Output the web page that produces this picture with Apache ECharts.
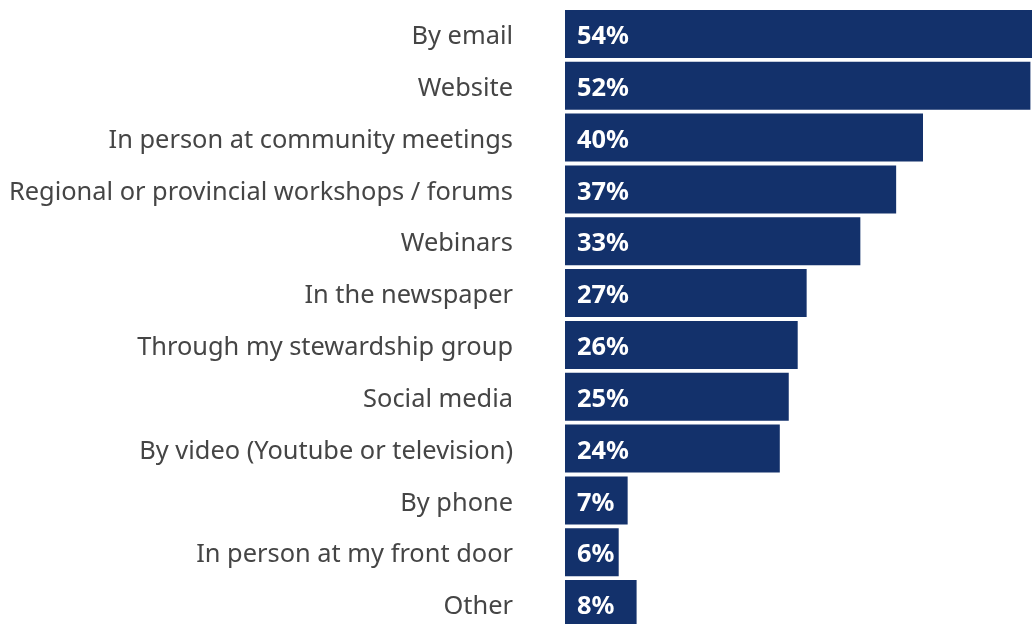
<!DOCTYPE html>
<html>
<head>
<meta charset="utf-8">
<script src="https://cdn.jsdelivr.net/npm/echarts@6/dist/echarts.min.js"></script>
<style>
  html, body { margin: 0; padding: 0; background: #fff; }
  #chart { width: 1032px; height: 624px; }
</style>
</head>
<body>
<div id="chart"></div>
<script>
// How respondents prefer to receive information (share of respondents, %)
const categories = [
  'By email',
  'Website',
  'In person at community meetings',
  'Regional or provincial workshops / forums',
  'Webinars',
  'In the newspaper',
  'Through my stewardship group',
  'Social media',
  'By video (Youtube or television)',
  'By phone',
  'In person at my front door',
  'Other'
];
const shares = [54, 52, 40, 37, 33, 27, 26, 25, 24, 7, 6, 8];

const chart = echarts.init(document.getElementById('chart'), null, { renderer: 'canvas' });

chart.setOption({
  animation: false,
  backgroundColor: '#ffffff',
  // the plot runs past the right and bottom edges of the canvas
  grid: { left: 565, top: 8, width: 537, height: 622, containLabel: false, outerBoundsMode: 'none' },
  xAxis: {
    type: 'value',
    min: 0,
    max: 60,
    show: false
  },
  yAxis: {
    type: 'category',
    data: categories,
    inverse: true,
    axisLine: { show: false },
    axisTick: { show: false },
    splitLine: { show: false },
    axisLabel: {
      margin: 52,
      formatter: '{cat|{value}}',
      rich: {
        cat: {
          color: '#454545',
          fontFamily: 'Noto Sans',
          fontSize: 25.4,
          padding: [6, 0, 0, 0]
        }
      }
    }
  },
  series: [{
    type: 'bar',
    data: shares,
    barWidth: 48,
    itemStyle: { color: '#13316B' },
    label: {
      show: true,
      position: 'insideLeft',
      distance: 12,
      offset: [0, 3],
      formatter: '{c}%',
      color: '#ffffff',
      fontFamily: 'Noto Sans',
      fontWeight: 'bold',
      fontSize: 25.4
    }
  }]
});
</script>
</body>
</html>
